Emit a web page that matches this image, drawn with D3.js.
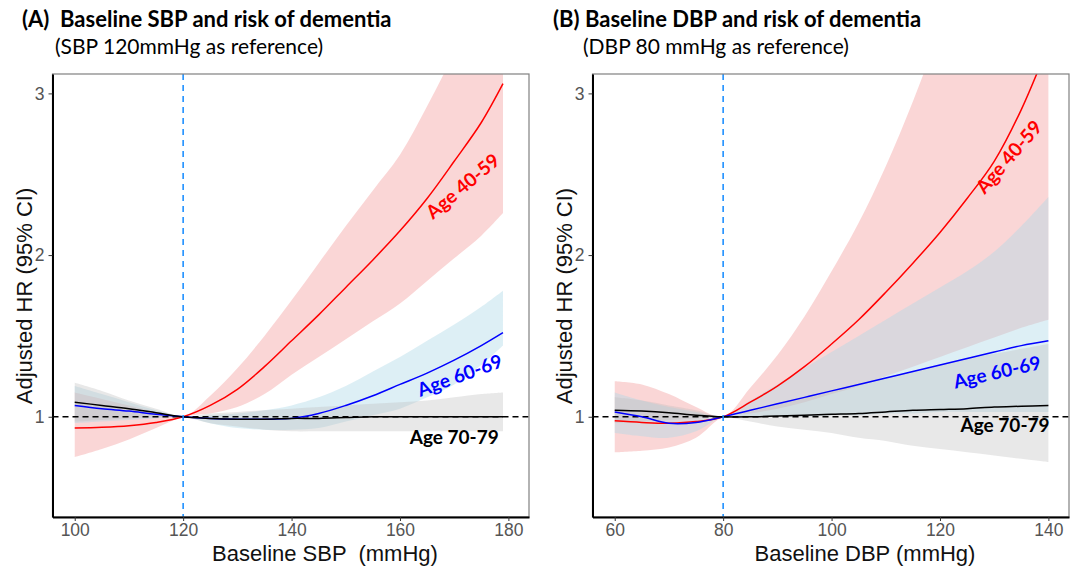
<!DOCTYPE html>
<html>
<head>
<meta charset="utf-8">
<script src="https://cdn.jsdelivr.net/npm/d3@7"></script>
<style>
  body { margin: 0; background: #fff; }
  svg { display: block; }
  .ptitle { font-family: Lato, "Open Sans", sans-serif; font-weight: 700; font-size: 22px; fill: #000; white-space: pre; }
  .psub { font-family: Lato, "Open Sans", sans-serif; font-size: 21px; fill: #000; }
  .tick text { font-family: "Liberation Sans", Arial, sans-serif; font-size: 17.5px; fill: #555; }
  .tick line { stroke: #333; }
  .axtitle { font-family: "Liberation Sans", Arial, sans-serif; font-size: 22px; fill: #111; white-space: pre; }
  .grp { font-family: Lato, "Open Sans", sans-serif; font-weight: 700; font-size: 19px; }
</style>
</head>
<body>
<svg id="chart" width="1077" height="568"></svg>
<script>
// ---- data ----
var groups = ["Age 40-59", "Age 60-69", "Age 70-79"];
var yTicks = [1, 2, 3];

// (A) SBP, 120 mmHg reference
var sbpGrid   = [100, 105, 110, 115, 120, 125, 130, 135, 140, 145, 150, 155, 160, 165, 170, 175, 179];
var sbpHR4059 = [0.93, 0.935, 0.945, 0.965, 1.0, 1.07, 1.17, 1.31, 1.47, 1.63, 1.8, 1.97, 2.15, 2.35, 2.58, 2.82, 3.06];
var sbpLo4059 = [0.75, 0.8, 0.86, 0.93, 1.0, 1.02, 1.06, 1.14, 1.26, 1.37, 1.48, 1.59, 1.7, 1.84, 1.98, 2.12, 2.26];
var sbpHi4059 = [1.15, 1.11, 1.07, 1.03, 1.0, 1.13, 1.3, 1.5, 1.72, 1.95, 2.18, 2.4, 2.62, 2.92, 3.25, 3.6, 3.95];
var sbpHR6069 = [1.07, 1.05, 1.035, 1.015, 1.0, 0.99, 0.985, 0.985, 0.99, 1.02, 1.07, 1.13, 1.2, 1.27, 1.35, 1.44, 1.52];
var sbpLo6069 = [0.96, 0.97, 0.98, 0.99, 1.0, 0.96, 0.93, 0.92, 0.92, 0.93, 0.97, 1.01, 1.05, 1.12, 1.2, 1.32, 1.44];
var sbpHi6069 = [1.19, 1.14, 1.09, 1.04, 1.0, 1.01, 1.02, 1.04, 1.07, 1.12, 1.19, 1.28, 1.37, 1.47, 1.57, 1.68, 1.78];
var sbpHR7079 = [1.09, 1.07, 1.05, 1.025, 1.0, 0.99, 0.985, 0.985, 0.99, 0.99, 0.995, 1.0, 1.0, 1.0, 1.0, 1.0, 1.0];
var sbpLo7079 = [0.97, 0.98, 0.99, 0.995, 1.0, 0.96, 0.94, 0.92, 0.91, 0.91, 0.91, 0.91, 0.91, 0.91, 0.91, 0.91, 0.91];
var sbpHi7079 = [1.21, 1.16, 1.1, 1.05, 1.0, 1.02, 1.03, 1.04, 1.05, 1.06, 1.07, 1.08, 1.09, 1.1, 1.12, 1.14, 1.15];
var sbpTicks  = [100, 120, 140, 160, 180];
var sbpLabelX = [171.5, 171, 170];
var sbpLabelY = [2.43, 1.26, 0.88];

// (B) DBP, 80 mmHg reference
var dbpGrid   = [60, 65, 70, 75, 80, 85, 90, 95, 100, 105, 110, 115, 120, 125, 130, 135, 140];
var dbpHR4059 = [0.975, 0.965, 0.96, 0.97, 1.0, 1.09, 1.19, 1.31, 1.45, 1.6, 1.77, 1.95, 2.14, 2.35, 2.58, 2.9, 3.3];
var dbpLo4059 = [0.78, 0.79, 0.81, 0.87, 1.0, 1.02, 1.05, 1.09, 1.14, 1.19, 1.25, 1.31, 1.37, 1.43, 1.49, 1.55, 1.6];
var dbpHi4059 = [1.22, 1.2, 1.14, 1.06, 1.0, 1.18, 1.38, 1.62, 1.9, 2.2, 2.55, 2.95, 3.4, 3.9, 4.4, 5.0, 5.6];
var dbpHR6069 = [1.03, 1.0, 0.96, 0.965, 1.0, 1.04, 1.08, 1.12, 1.16, 1.2, 1.24, 1.28, 1.32, 1.36, 1.4, 1.44, 1.47];
var dbpLo6069 = [0.9, 0.88, 0.87, 0.91, 1.0, 1.0, 1.0, 1.0, 1.01, 1.01, 1.02, 1.02, 1.03, 1.03, 1.03, 1.03, 1.03];
var dbpHi6069 = [1.15, 1.1, 1.06, 1.03, 1.0, 1.1, 1.2, 1.3, 1.4, 1.5, 1.6, 1.7, 1.8, 1.9, 2.02, 2.18, 2.36];
var dbpHR7079 = [1.04, 1.035, 1.025, 1.01, 1.0, 1.0, 1.005, 1.01, 1.015, 1.02, 1.03, 1.04, 1.045, 1.05, 1.06, 1.065, 1.07];
var dbpLo7079 = [0.96, 0.97, 0.98, 0.99, 1.0, 0.97, 0.94, 0.92, 0.9, 0.87, 0.85, 0.82, 0.8, 0.78, 0.76, 0.74, 0.72];
var dbpHi7079 = [1.12, 1.1, 1.07, 1.04, 1.0, 1.04, 1.08, 1.12, 1.16, 1.2, 1.24, 1.28, 1.32, 1.36, 1.39, 1.42, 1.45];
var dbpTicks  = [60, 80, 100, 120, 140];
var dbpLabelX = [132.6, 130.5, 132];
var dbpLabelY = [2.61, 1.28, 0.95];

// ---- styling ----
var lineCols = ["#ff0000", "#0000ff", "#000000"];
var bandCols = ["#f08080", "#add8e6", "#bebebe"];
var bandOpac = [0.32, 0.42, 0.35];
var plotTop = 74, plotBot = 517;   // 'top' is taken by window.top

var svg = d3.select("#chart");

function zip(xs, ys) {
  return xs.map(function(v, i) { return [v, ys[i]]; });
}

function drawPanel(p) {
  var x = d3.scaleLinear().domain(p.xDomain).range([p.left, p.right]);
  var y = d3.scaleLinear().domain([0.38, 3.12]).range([plotBot, plotTop]);

  var g = svg.append("g").attr("class", "panel-" + p.id);

  g.append("clipPath").attr("id", "clip-" + p.id)
    .append("rect")
    .attr("x", p.left).attr("y", plotTop)
    .attr("width", p.right - p.left).attr("height", plotBot - plotTop);

  var plot = g.append("g").attr("clip-path", "url(#clip-" + p.id + ")");

  var curve = d3.curveCatmullRom.alpha(0.5);
  var area = d3.area()
    .x(function(d) { return x(d[0]); })
    .y0(function(d) { return y(d[1]); })
    .y1(function(d) { return y(d[2]); })
    .curve(curve);
  var line = d3.line()
    .x(function(d) { return x(d[0]); })
    .y(function(d) { return y(d[1]); })
    .curve(curve);

  // bands first, then the lines on top
  p.series.forEach(function(s, i) {
    var pts = p.grid.map(function(v, k) { return [v, s.lo[k], s.hi[k]]; });
    plot.append("path")
      .attr("d", area(pts))
      .attr("fill", bandCols[i])
      .attr("fill-opacity", bandOpac[i]);
  });

  // reference line at HR = 1
  plot.append("line")
    .attr("x1", p.left).attr("x2", p.right)
    .attr("y1", y(1)).attr("y2", y(1))
    .attr("stroke", "#000").attr("stroke-width", 1.6)
    .attr("stroke-dasharray", "6,4");

  p.series.forEach(function(s, i) {
    plot.append("path")
      .attr("d", line(zip(p.grid, s.hr)))
      .attr("fill", "none")
      .attr("stroke", lineCols[i])
      .attr("stroke-width", 1.5);
  });

  plot.append("line")
    .attr("x1", x(p.ref)).attr("x2", x(p.ref))
    .attr("y1", plotTop).attr("y2", plotBot)
    .attr("stroke", "#1e90ff").attr("stroke-width", 1.6)
    .attr("stroke-dasharray", "6,5");

  // frame: grey box, black left/bottom axis lines
  g.append("rect")
    .attr("x", p.left).attr("y", plotTop)
    .attr("width", p.right - p.left).attr("height", plotBot - plotTop)
    .attr("fill", "none").attr("stroke", "#808080").attr("stroke-width", 1.2);

  var xAxis = d3.axisBottom(x).tickValues(p.ticks).tickSize(4).tickPadding(3).tickSizeOuter(0);
  var yAxis = d3.axisLeft(y).tickValues(yTicks).tickFormat(d3.format("d"))
    .tickSize(4).tickPadding(4).tickSizeOuter(0);

  var gx = g.append("g").attr("transform", "translate(0," + plotBot + ")").call(xAxis);
  gx.select(".domain").attr("stroke", "#000").attr("stroke-width", 2);

  var gy = g.append("g").attr("transform", "translate(" + p.left + ",0)").call(yAxis);
  gy.select(".domain").attr("stroke", "#000").attr("stroke-width", 2);

  // group labels
  groups.forEach(function(name, i) {
    var lx = x(p.labelX[i]), ly = y(p.labelY[i]);
    g.append("text")
      .attr("class", "grp")
      .attr("x", lx).attr("y", ly)
      .attr("text-anchor", "middle")
      .attr("dominant-baseline", "central")
      .attr("transform", "rotate(" + p.labelRot[i] + "," + lx + "," + ly + ")")
      .attr("fill", lineCols[i])
      .text(name);
  });

  // titles
  g.append("text").attr("class", "ptitle")
    .attr("x", p.titleX).attr("y", 27).text(p.title);
  g.append("text").attr("class", "psub")
    .attr("x", p.subX).attr("y", 54).text(p.sub);

  g.append("text").attr("class", "axtitle")
    .attr("x", p.xTitleX).attr("y", 561)
    .attr("text-anchor", "middle")
    .text(p.xTitle);

  var yx = p.left - 28, yy = 296;
  g.append("text").attr("class", "axtitle")
    .attr("x", yx).attr("y", yy)
    .attr("text-anchor", "middle")
    .attr("dominant-baseline", "central")
    .attr("transform", "rotate(-90," + yx + "," + yy + ")")
    .text("Adjusted HR (95% CI)");
}

drawPanel({
  id: "a", left: 52.5, right: 529, xDomain: [95.9, 183.8], ref: 120,
  grid: sbpGrid, ticks: sbpTicks,
  series: [
    { hr: sbpHR4059, lo: sbpLo4059, hi: sbpHi4059 },
    { hr: sbpHR6069, lo: sbpLo6069, hi: sbpHi6069 },
    { hr: sbpHR7079, lo: sbpLo7079, hi: sbpHi7079 }
  ],
  labelX: sbpLabelX, labelY: sbpLabelY, labelRot: [-40, -20, 0],
  title: "(A)  Baseline SBP and risk of dementia", titleX: 22,
  sub: "(SBP 120mmHg as reference)", subX: 55,
  xTitle: "Baseline SBP  (mmHg)", xTitleX: 325
});

drawPanel({
  id: "b", left: 592.5, right: 1069, xDomain: [55.9, 143.8], ref: 80,
  grid: dbpGrid, ticks: dbpTicks,
  series: [
    { hr: dbpHR4059, lo: dbpLo4059, hi: dbpHi4059 },
    { hr: dbpHR6069, lo: dbpLo6069, hi: dbpHi6069 },
    { hr: dbpHR7079, lo: dbpLo7079, hi: dbpHi7079 }
  ],
  labelX: dbpLabelX, labelY: dbpLabelY, labelRot: [-49, -13, 0],
  title: "(B) Baseline DBP and risk of dementia", titleX: 553,
  sub: "(DBP 80 mmHg as reference)", subX: 583,
  xTitle: "Baseline DBP (mmHg)", xTitleX: 865
});
</script>
</body>
</html>
